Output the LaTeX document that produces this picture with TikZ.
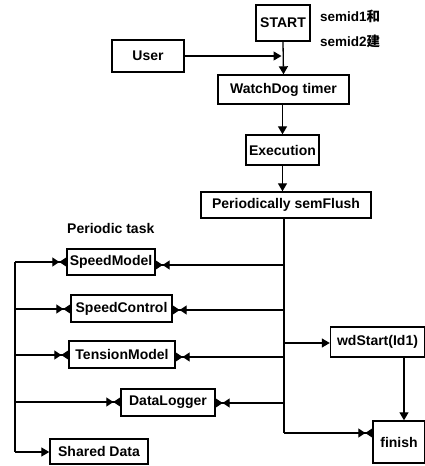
\documentclass[tikz,border=0pt]{standalone}
\usepackage{fontspec}
\setmainfont{Liberation Sans}
\newfontfamily\cjk{Noto Sans CJK SC}
\usetikzlibrary{arrows.meta}
\tikzset{
  box/.style={draw, line width=1.4pt, inner sep=1pt, align=center,
    font=\fontsize{14}{16}\selectfont\bfseries},
  lbl/.style={font=\fontsize{13.5}{15}\selectfont\bfseries, inner sep=0pt, anchor=west},
  conn/.style={line width=1.3pt},
  tri/.style={conn, -{Triangle[length=8pt,width=9pt]}},
  bow/.style={conn, -{Triangle[length=7pt,width=9pt,sep=0pt] Triangle[length=7pt,width=9pt,reversed]}},
}
\begin{document}
\begin{tikzpicture}[x=1pt,y=-1pt]
\useasboundingbox (0,0) rectangle (425,466);

% upper chain
\node[box, minimum width=54pt, minimum height=36pt] (start) at (283,23) {START};
\node[lbl] (s1) at (320,16) {semid1{\cjk 和}};
\node[lbl] (s2) at (320,41) {semid2{\cjk 建}};
\node[box, minimum width=72pt, minimum height=32pt] (user) at (148,56) {User};
\node[box, minimum width=131pt, minimum height=29pt] (wd) at (283.5,89.5) {WatchDog timer};
\node[box, minimum width=73pt, minimum height=30pt] (exe) at (282.5,150) {Execution};
\node[box, minimum width=170pt, minimum height=26pt] (flush) at (286,205) {Periodically semFlush};

% periodic tasks
\node[lbl] (pt) at (67,228) {\fontsize{14}{16}\selectfont Periodic task};
\node[box, minimum width=88pt, minimum height=26pt] (sm) at (111,262) {SpeedModel};
\node[box, minimum width=101pt, minimum height=27pt] (sc) at (121.5,308.5) {SpeedControl};
\node[box, minimum width=106pt, minimum height=27pt] (tm) at (122,354.5) {TensionModel};
\node[box, minimum width=94pt, minimum height=27pt] (dl) at (168,402.5) {DataLogger};
\node[box, minimum width=98pt, minimum height=25pt] (sd) at (99,451.5) {Shared Data};
\node[box, minimum width=94pt, minimum height=30pt] (wds) at (377.5,342) {wdStart(Id1)};
\node[box, minimum width=52pt, minimum height=42pt] (fin) at (399,442) {finish};

% main flow
\draw[tri] (start.south) -- (wd.north);
\draw[tri, shorten >=1.5pt] (user.east) -- (user.east -| start.south);
\draw[tri] (wd.south -| exe.north) -- (exe.north);
\draw[tri] (exe.south) -- (exe.south |- flush.north);

% trunk from semFlush
\coordinate (t1) at (284,265);
\coordinate (t2) at (284,310);
\coordinate (t3) at (284,343);
\coordinate (t4) at (284,357);
\coordinate (t5) at (284,403);
\coordinate (t6) at (284,433);
\draw[conn] (flush.south -| t1) -- (t6);
\draw[bow] (t1) -- (t1 -| sm.east);
\draw[bow] (t2) -- (t2 -| sc.east);
\draw[tri] (t3) -- (t3 -| wds.west);
\draw[bow] (t4) -- (t4 -| tm.east);
\draw[bow] (t5) -- (t5 -| dl.east);
\draw[bow] (t6) -- (t6 -| fin.west);
\draw[tri] (wds.south -| 404,0) -- (fin.north -| 404,0);

% left bus
\coordinate (b1) at (15,262);
\coordinate (b2) at (15,309);
\coordinate (b3) at (15,355);
\coordinate (b4) at (15,402);
\coordinate (b5) at (15,452);
\draw[conn] (b1) -- (b5);
\draw[bow] (b1) -- (b1 -| sm.west);
\draw[bow] (b2) -- (b2 -| sc.west);
\draw[bow] (b3) -- (b3 -| tm.west);
\draw[bow] (b4) -- (b4 -| dl.west);
\draw[tri] (b5) -- (b5 -| sd.west);
\end{tikzpicture}
\end{document}
